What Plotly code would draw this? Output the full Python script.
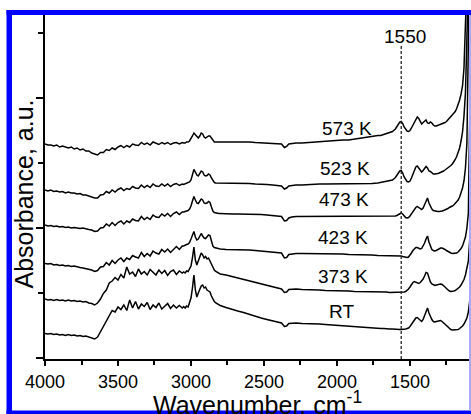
import plotly.graph_objects as go

# ---------------- data ----------------
wavenumber = [
    4000, 3980, 3960, 3940, 3920, 3900, 3880, 3860, 3840, 3820, 3800, 3780, 3760, 3740, 3720, 3700, 3680, 3660,
    3640, 3620, 3600, 3580, 3560, 3540, 3520, 3500, 3480, 3460, 3440, 3420, 3400, 3380, 3360, 3340, 3320, 3300,
    3280, 3260, 3240, 3220, 3200, 3180, 3160, 3140, 3120, 3100, 3080, 3060,
    3050, 3040, 3030, 3020, 3010, 3000, 2990, 2980, 2970, 2960, 2950, 2940, 2930, 2920, 2910, 2900, 2890, 2880,
    2870, 2860, 2850, 2840, 2830, 2820, 2810, 2800,
    2760, 2720, 2680, 2640, 2600, 2560, 2520, 2480, 2440, 2400, 2380, 2360, 2345, 2330, 2310, 2280, 2240, 2200,
    2160, 2120, 2080, 2040, 2000, 1960, 1920, 1880, 1840, 1800, 1760, 1720,
    1700, 1680, 1660, 1640, 1620, 1600, 1590, 1580, 1570, 1560, 1550, 1540, 1530, 1520, 1510, 1500, 1490, 1480,
    1470, 1460, 1450, 1440, 1430, 1420, 1410, 1400, 1390, 1380, 1370, 1360, 1350, 1340, 1330, 1320, 1310, 1300,
    1290, 1280, 1270, 1260, 1250, 1240, 1230, 1220, 1210, 1200, 1190, 1180, 1170, 1160, 1150, 1140,
    1130, 1120, 1110, 1100, 1090, 1082,
]

abs_573 = [
    214, 213, 213, 212, 213, 211, 212, 211, 210, 211, 209, 210, 208, 209, 207, 207, 205, 204,
    203, 205.5, 205.5, 208.5, 207.5, 210, 208.5, 211, 212.5, 210.5, 212.5, 211, 214, 213, 212.5, 215.5, 213.5, 215,
    213, 216, 214.5, 213.5, 215.5, 214, 215.5, 213.5, 215, 215.5, 214, 215.5,
    215, 215, 216, 216, 217, 219, 222, 225, 223, 221, 220, 222, 225, 224, 221, 220, 221, 222, 222, 220, 217, 216,
    216, 216, 216, 216,
    216.5, 216, 216, 216, 216, 215.5, 215, 215, 214.5, 214, 214, 210.5, 211.5, 214, 214.5, 215, 215, 215.5, 216,
    216.5, 217, 217, 217.5, 218, 218, 219, 219.5, 220.5, 221.5, 222.5,
    222.5, 223.5, 224.5, 225.5, 226.5, 229, 231, 234, 236, 236.5, 234.5, 231, 228.5, 227, 226.5, 227.5, 230, 233,
    236, 239, 241, 239.5, 236, 234, 235.5, 237, 238, 235, 234.5, 236, 235, 233, 232, 232, 232.5, 233, 233.5, 234,
    234.5, 235.5, 236.5, 238, 239.5, 241, 242.5, 244, 246.5, 249.5, 253, 258, 264, 272,
    290, 330, 420, 480, 500, 500,
]

abs_523 = [
    168, 167, 168, 166.5, 167, 166, 166.5, 165, 166, 165, 165, 164, 164.5, 163, 163, 162, 161, 160,
    160, 163, 163.5, 166.5, 165, 168, 166, 168.5, 170, 167.5, 169.5, 168.5, 171.5, 170, 169.5, 173, 170.5, 172.5,
    170.5, 174, 172, 171.5, 174, 172, 174, 171.5, 173.5, 174.5, 172.5, 174,
    173.5, 174, 174.5, 175, 176, 178, 183, 188.5, 186, 183, 182, 184, 187, 186, 183, 182, 182.5, 184, 183, 180,
    177, 175.5, 175, 175, 174.5, 174.5,
    174.5, 174.5, 174.5, 174.5, 174.5, 174, 174, 173.5, 173, 172.5, 172, 169, 170, 172, 172.5, 173, 173, 173.5,
    173.5, 174, 174, 174, 174.5, 174.5, 174.5, 174.5, 174.5, 174.5, 174.5, 175,
    175.5, 176, 176.5, 177, 178, 180.5, 183, 185.5, 187, 187.5, 185, 181, 178, 176.5, 176, 177, 180, 184, 188, 191,
    192, 190, 187, 186, 187.5, 189.5, 191.5, 190, 187, 186.5, 185, 184, 184, 184, 184.5, 185, 185.5, 186, 187, 188,
    189, 190, 191, 192.5, 194, 196, 198.5, 201.5, 205, 210, 217, 226,
    242, 265, 320, 420, 500, 500,
]

abs_473 = [
    133, 132, 132.5, 131.5, 132, 131, 131.5, 130.5, 131, 130, 130.5, 130, 129.5, 130, 129, 128.5, 128, 126.5,
    127, 130, 130.5, 134, 132, 135.5, 132.5, 135.5, 137, 134, 137, 135.5, 139, 137.5, 137, 141.5, 138.5, 140.5,
    138.5, 143, 141, 140.5, 144, 142, 144.5, 141.5, 144.5, 146, 143.5, 146,
    146, 146.5, 147, 147.5, 149, 152, 157, 161.5, 158, 155, 154.5, 157, 159, 158, 155, 154.5, 155, 156.5, 155.5,
    151, 147, 145.5, 145, 145, 144.5, 144.5,
    144, 144, 144, 144, 144, 143.5, 143.5, 143, 142.5, 142, 141.5, 137, 137.5, 140, 141, 141.5, 141.5, 141.5, 142,
    142, 142, 142, 142, 142, 142, 142, 142, 141.5, 141.5, 141.5,
    141.5, 141.5, 141.5, 141.5, 141.5, 142, 142.5, 143.5, 144.5, 145, 144, 142, 140.5, 140, 140.5, 142, 144, 146.5,
    149, 150.5, 151.5, 150.5, 149, 148.5, 150, 153, 157, 160, 155, 151, 149, 147.5, 147, 146.5, 146.5, 146.5,
    146.5, 147, 147.5, 148, 149, 149.5, 150.5, 151, 152, 153, 154.5, 156, 158, 161, 165, 170,
    177, 190, 215, 290, 420, 500,
]

abs_423 = [
    94.5, 94, 94.5, 93, 93.5, 92.5, 93, 92, 92.5, 91.5, 92, 91, 90.5, 90, 89.5, 89, 88, 86.5,
    87.5, 91, 91.5, 95.5, 93, 97.5, 94.5, 98, 100, 96.5, 100, 98.5, 102.5, 101, 100, 105.5, 101.5, 104.5, 102, 107,
    105, 104, 108.5, 106, 109, 105.5, 109, 111.5, 108.5, 112,
    112, 113, 113.5, 114, 115.5, 119, 124, 126.5, 121, 118, 119, 122, 124.5, 122, 120, 119.5, 121, 123, 122.5, 117,
    112, 110.5, 110, 109.5, 109.5, 109,
    108.5, 108.5, 108, 108, 108, 107.5, 107, 106.5, 106, 105.5, 105, 100, 100.5, 103.5, 104, 104.5, 104.5, 104.5,
    104.5, 104.5, 104, 104, 104, 104, 103.5, 103.5, 103, 103, 103, 102.5,
    102.5, 102.5, 102.5, 102, 102, 102, 102, 102, 102, 102, 101.5, 101, 100.5, 100.5, 101, 102.5, 105, 107.5, 109.5,
    110.5, 110.5, 109.5, 109, 109.5, 112, 115, 119, 122, 116, 111, 108.5, 107.5, 107, 107.5, 108.5, 109.5, 110, 110,
    109.5, 108.5, 107.5, 106.5, 105.5, 105, 104.5, 104.5, 104.5, 105, 106, 107.5, 109.5, 112,
    116, 121, 130, 145, 250, 500,
]

abs_373 = [
    59, 58, 58.5, 57.5, 58.5, 57.5, 58, 57, 58, 57, 57.5, 56.5, 57, 56, 56.5, 55, 54.5, 53,
    55, 59, 64.5, 68, 75, 77, 80.5, 78, 83.5, 80, 91, 84, 86, 81.5, 89, 84, 86.5, 83, 88.5, 85.5, 83, 88, 84.5,
    87.5, 82.5, 86.5, 88, 83.5, 87, 85,
    86, 85, 87, 86.5, 89, 92, 100, 111, 98, 93, 97, 102, 105, 103, 100, 101.5, 99, 100, 97, 93, 90, 88, 86.5, 85.5,
    85, 84,
    83, 81.5, 80.5, 79, 77.5, 75.5, 74, 72.5, 71, 70, 69, 65.5, 66, 68.5, 69, 69, 68.5, 68.5, 68, 68, 67.5, 67.5,
    67.5, 67, 67, 66.5, 66.5, 66, 66, 66,
    66, 66, 66, 65.5, 65.5, 65.5, 65.5, 65.5, 65.5, 65.5, 65.5, 66, 66.5, 67.5, 69, 71, 73.5, 75.5, 76.5, 76, 75,
    74.5, 75.5, 77, 79, 82, 85.5, 85, 80, 76, 74, 73, 72.5, 73, 73.5, 74, 74, 73.5, 72.5, 71, 69.5, 68, 67, 66.5,
    66.5, 67, 67.5, 68.5, 69.5, 71, 73, 75.5,
    78.5, 83, 89, 97, 120, 500,
]

abs_rt = [
    24.5, 24, 24.5, 23.5, 24, 23, 23.5, 22.5, 23.5, 22.5, 23, 22, 22.5, 21.5, 22, 21, 20, 19,
    21, 26.5, 31, 38, 42, 47.5, 46, 51, 48.5, 53, 47.5, 58, 50, 56.5, 49, 54, 51.5, 55.5, 48.5, 53, 50.5, 55, 49,
    52, 54.5, 49.5, 53, 50, 52.5, 50,
    51.5, 50, 52, 51, 55, 60, 70, 83, 68, 61, 65, 69, 72, 73, 70, 71, 68, 67, 66, 62, 59, 56.5, 55, 54, 53, 52.5,
    50.5, 48.5, 47, 45.5, 43.5, 41.5, 40, 38.5, 37, 36, 35, 31.5, 32, 34.5, 35, 35, 34.5, 34.5, 34, 34, 33.5, 33,
    33, 32.5, 32, 31.5, 31, 30.5, 30, 29.5,
    29.5, 29.5, 29, 29, 29, 28.5, 28.5, 28.5, 28.5, 28.5, 28.5, 28.5, 29, 29.5, 30, 31.5, 33.5, 36, 38.5, 40, 40.5,
    39, 37, 36.5, 38.5, 42, 47, 50, 45, 41, 38.5, 36.5, 36, 36.5, 37, 37.5, 37.5, 36.5, 35, 33.5, 32, 30.5, 29,
    28.5, 28, 28, 28, 28, 28.5, 29.5, 30.5, 32,
    34, 37, 40, 46, 58, 500,
]

series_names = ["573 K", "523 K", "473 K", "423 K", "373 K", "RT"]
series_values = [abs_573, abs_523, abs_473, abs_423, abs_373, abs_rt]
label_wavenumber = [1934, 1945, 1952, 1961, 1961, 1968]
label_absorbance = [229.7, 189.7, 158.7, 121.0, 81.3, 46.3]

marker_wavenumber = 1560
marker_text = "1550"

for vals in series_values:
    assert len(vals) == len(wavenumber), (len(vals), len(wavenumber))

# ---------------- figure ----------------
FONT = "Liberation Sans, Arial, Helvetica, sans-serif"
W, H = 471, 414
ML, MR, MT, MB = 45, 0, 15, 55
PW, PH = W - ML - MR, H - MT - MB


def px2x(p):
    return (p - ML) / PW


def py2y(p):
    return (H - MB - p) / PH


fig = go.Figure()
for name, vals in zip(series_names, series_values):
    fig.add_trace(go.Scatter(
        x=wavenumber, y=vals, mode="lines", name=name,
        line=dict(color="black", width=1.5), hoverinfo="skip", showlegend=False,
    ))

axis_common = dict(showgrid=False, zeroline=False, showline=True, linecolor="black", linewidth=2,
                   ticks="outside", tickcolor="black", tickwidth=1.5)

fig.update_xaxes(range=[4000, 1082], tickmode="linear", tick0=1500, dtick=500, ticklen=5,
                 tickfont=dict(size=18, color="black", family=FONT),
                 minor=dict(tick0=1500, dtick=250, ticks="outside", ticklen=4, tickwidth=1.5,
                            tickcolor="black", showgrid=False),
                 **axis_common)
fig.update_yaxes(range=[-1, 343], tickmode="linear", tick0=0, dtick=130, ticklen=7,
                 showticklabels=False,
                 minor=dict(tick0=0, dtick=65, ticks="outside", ticklen=5, tickwidth=1.5,
                            tickcolor="black", showgrid=False),
                 **axis_common)

annotations = []
for name, xw, ya in zip(series_names, label_wavenumber, label_absorbance):
    annotations.append(dict(x=xw, y=ya, xref="x", yref="y", text=name, showarrow=False,
                            font=dict(size=19, color="black", family=FONT),
                            xanchor="center", yanchor="middle"))
annotations.append(dict(x=1535, y=322, xref="x", yref="y", text=marker_text, showarrow=False,
                        font=dict(size=19, color="black", family=FONT),
                        xanchor="center", yanchor="middle"))
annotations.append(dict(x=px2x(257), y=py2y(402.5), xref="paper", yref="paper",
                        text="Wavenumber, cm<sup>-1</sup>", showarrow=False,
                        font=dict(size=25, color="black", family=FONT),
                        xanchor="center", yanchor="middle"))
annotations.append(dict(x=px2x(23.5), y=py2y(194), xref="paper", yref="paper",
                        text="Absorbance, a.u.", textangle=-90, showarrow=False,
                        font=dict(size=25, color="black", family=FONT),
                        xanchor="center", yanchor="middle"))

shapes = [
    dict(type="line", xref="x", yref="y", x0=marker_wavenumber, x1=marker_wavenumber, y0=-1, y1=313,
         line=dict(color="#222222", width=1.3, dash="3px,2px")),
]
BLUE = "#0000FF"
for (x0, x1, y0, y1, col) in [
    (6.5, 12, 10, 414, BLUE),
    (6.5, 471, 10, 15, BLUE),
    (6.5, 471, 410.5, 414, BLUE),
    (469, 471, 15, 410.5, "#A8A8FF"),
]:
    shapes.append(dict(type="rect", xref="paper", yref="paper", layer="above",
                       x0=px2x(x0), x1=px2x(x1), y0=py2y(y1), y1=py2y(y0),
                       fillcolor=col, line=dict(width=0)))

fig.update_layout(width=W, height=H, margin=dict(l=ML, r=MR, t=MT, b=MB, pad=0),
                  paper_bgcolor="white", plot_bgcolor="white",
                  font=dict(family=FONT, color="black"), showlegend=False,
                  annotations=annotations, shapes=shapes)

fig.write_html("out.html")
